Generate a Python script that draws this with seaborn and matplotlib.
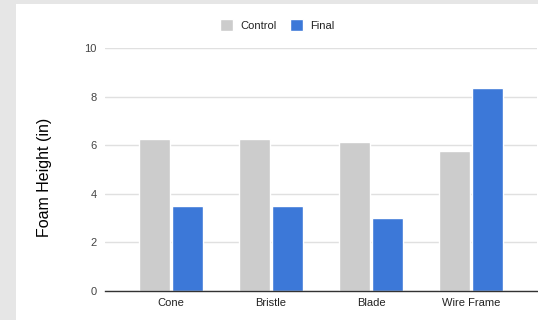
import matplotlib
matplotlib.use("Agg")
import matplotlib.pyplot as plt
import seaborn as sns
import pandas as pd
from matplotlib.patches import Rectangle

categories = ["Cone", "Bristle", "Blade", "Wire Frame"]
control = [6.25, 6.25, 6.15, 5.75]
final = [3.5, 3.5, 3.0, 8.35]
series_names = ["Control", "Final"]
yticks = [0, 2, 4, 6, 8, 10]

df = pd.DataFrame({
    "Category": categories * 2,
    "Series": [series_names[0]] * len(categories) + [series_names[1]] * len(categories),
    "Value": control + final,
})

sns.set_style("white")
plt.rcParams["font.family"] = ["Liberation Sans", "DejaVu Sans"]

fig = plt.figure(figsize=(5.38, 3.2), dpi=100)
fig.patch.set_facecolor("#e6e6e6")
fig.patches.append(Rectangle((16 / 538, 0), 1, 1 - 4 / 320, transform=fig.transFigure,
                             facecolor="white", edgecolor="none", zorder=-10))

ax = fig.add_axes([105 / 538, 29 / 320, 432 / 538, 243 / 320])
ax.set_zorder(1)
ax.set_facecolor("none")
sns.barplot(data=df, x="Category", y="Value", hue="Series", order=categories,
            hue_order=series_names, palette=["#cccccc", "#3c78d8"],
            width=0.66, gap=0.08, ax=ax, legend=False, saturation=1)

ax.set_xlim(-0.66, 3.66)
ax.set_ylim(0, 10)
ax.set_yticks(yticks)
ax.yaxis.grid(True, color="#e0e0e0", linewidth=1)
ax.set_axisbelow(True)
for s in ["top", "right", "left"]:
    ax.spines[s].set_visible(False)
ax.spines["bottom"].set_color("#333333")
ax.spines["bottom"].set_linewidth(1)
ax.tick_params(axis="both", length=0, labelsize=8, colors="#444444")
ax.tick_params(axis="x", labelcolor="#222222", pad=5)
ax.tick_params(axis="y", pad=6)
ax.set_xlabel("")
ax.set_ylabel("")
fig.text(44 / 538, 1 - 177 / 320, "Foam Height (in)", rotation=90, ha="center", va="center",
         fontsize=11.5, color="#000000")

handles = [Rectangle((0, 0), 1, 1, facecolor=c) for c in ["#cccccc", "#3c78d8"]]
fig.legend(handles, series_names, loc="center", bbox_to_anchor=(277 / 538, 1 - 25 / 320),
           ncol=2, frameon=False, fontsize=8, handlelength=1.2, handleheight=1.2,
           handletextpad=0.6, columnspacing=1.2, labelcolor="#222222")

fig.savefig("out.png", dpi=100)
